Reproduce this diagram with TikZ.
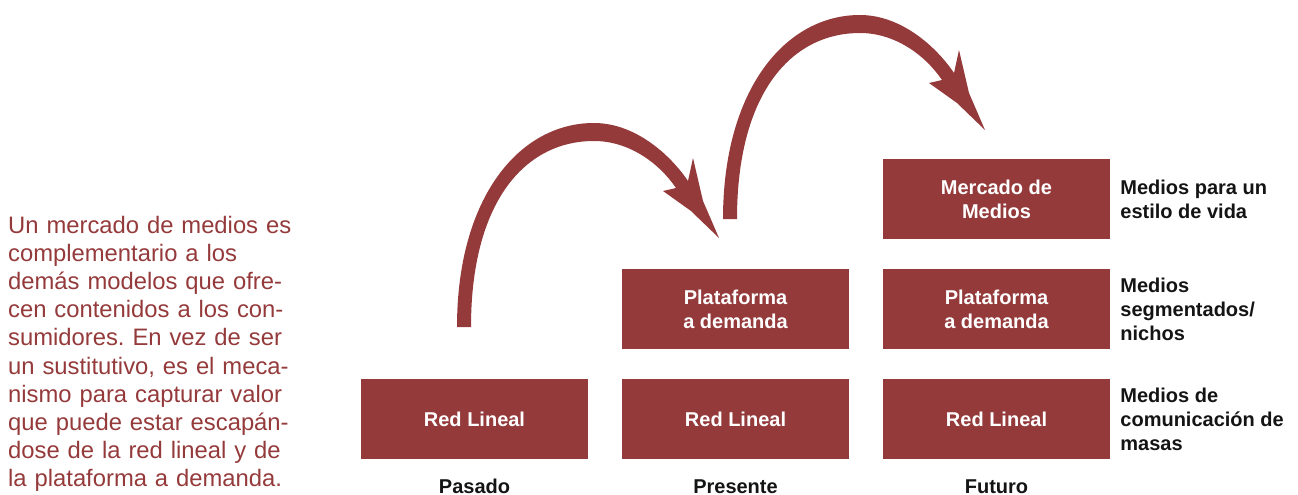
\documentclass[tikz,border=0pt]{standalone}
\usepackage{fontspec}
\setmainfont{Liberation Sans}
\frenchspacing
\definecolor{brick}{RGB}{149,58,59}
\definecolor{ink}{RGB}{20,20,20}
\newcommand\jumpshape{%
  \fill[brick] (723,219) .. controls (723,90) and (785,15) .. (860,15)
    .. controls (900,15) and (935,45) .. (954,73)
    -- (959,50) -- (969,93) -- (985,130) -- (957,103) -- (929,83) -- (942,80)
    .. controls (925,55) and (895,33) .. (860,33)
    .. controls (790,33) and (737,95) .. (737,219)
    -- cycle;}
\begin{document}
\begin{tikzpicture}[x=1pt,y=-1pt,
  box/.style={fill=brick, minimum width=227pt, minimum height=80pt, inner sep=0pt, text=white,
    font=\fontsize{20}{24}\selectfont\bfseries, align=center},
  side/.style={anchor=west, align=left, inner sep=0pt, text=ink,
    font=\fontsize{20}{24}\selectfont\bfseries},
  era/.style={anchor=base, inner sep=0pt, text=ink, font=\fontsize{20}{24}\selectfont\bfseries},
  note/.style={anchor=base west, text width=320pt, align=left, inner sep=0pt, text=brick,
    font=\fontsize{23.8}{28.2}\selectfont}]
\useasboundingbox (0,0) rectangle (1298,495);
% boxes
\node[box] (p1) at (474.5,419) {Red Lineal};
\node[box] (r1) at (735.5,419) {Red Lineal};
\node[box] (r2) at (735.5,309) {Plataforma\\a demanda};
\node[box] (f1) at (996.5,419) {Red Lineal};
\node[box] (f2) at (996.5,309) {Plataforma\\a demanda};
\node[box] (f3) at (996.5,199) {Mercado de\\Medios};
% side labels
\node[side] (s3) at ([xshift=10pt]f3.east) {Medios para un\\estilo de vida};
\node[side] (s2) at ([xshift=10pt]f2.east) {Medios\\segmentados/\\nichos};
\node[side] (s1) at ([xshift=10pt]f1.east) {Medios de\\comunicación de\\masas};
% eras
\node[era] (e1) at (474.5,493) {Pasado};
\node[era] (e2) at (735.5,493) {Presente};
\node[era] (e3) at (996.5,493) {Futuro};
% note
\node[note] (txt) at (8,233) {Un mercado de medios es\\complementario a los\\demás modelos que ofre-\\cen contenidos a los con-\\sumidores. En vez de ser\\un sustitutivo, es el meca-\\nismo para capturar valor\\que puede estar escapán-\\dose de la red lineal y de\\la plataforma a demanda.};
% jump arrows
\begin{scope}[shift={(-266,108)}]
\jumpshape
\end{scope}
\jumpshape
\end{tikzpicture}
\end{document}
